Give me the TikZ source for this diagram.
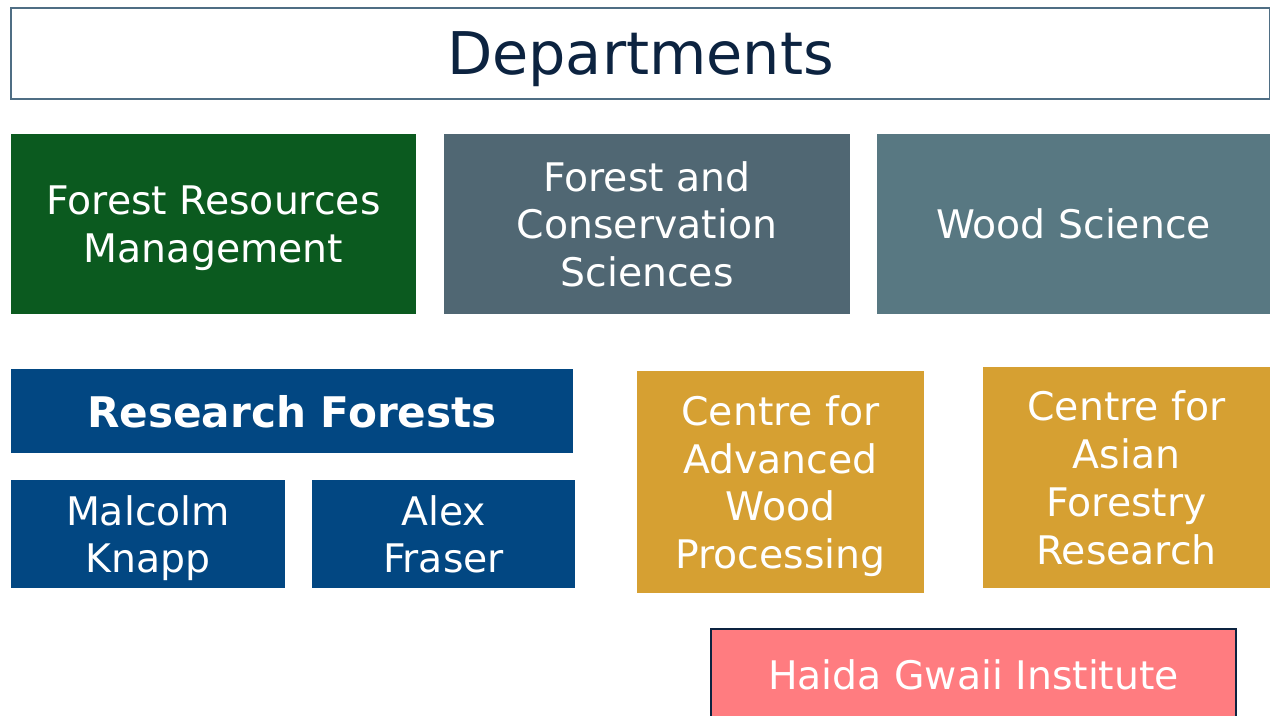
\documentclass[tikz,border=0pt]{standalone}
\usepackage{xcolor}
\usepackage{fontspec}
\setmainfont{DejaVu Sans}
\usepackage{tikz}
\usetikzlibrary{shadows}

\definecolor{deptgreen}{HTML}{0B5A1F}
\definecolor{deptslate}{HTML}{506773}
\definecolor{deptteal}{HTML}{587882}
\definecolor{forestblue}{HTML}{024782}
\definecolor{centregold}{HTML}{D6A032}
\definecolor{haidapink}{HTML}{FF7C80}
\definecolor{titlenavy}{HTML}{0C2340}
\definecolor{titleframe}{HTML}{4F6E84}

\begin{document}
\begin{tikzpicture}[x=0.02cm, y=-0.02cm,
    unit/.style={inner sep=0pt, align=center, text=white, text depth=0pt,
        font=\fontsize{22.4}{27.2}\selectfont},
    title/.style={draw=titleframe, line width=1pt, fill=white, inner sep=0pt, text depth=0pt,
        text=titlenavy, font=\fontsize{33.5}{40}\selectfont}]
    \useasboundingbox (0,0) rectangle (1270,716);

    \node[title, minimum width=25.18cm, minimum height=1.82cm] (dept) at (640.5,53.5) {Departments};

    \node[unit, fill=deptgreen, minimum width=8.1cm, minimum height=3.6cm] (frm) at (213.5,224) {Forest Resources\\Management};
    \node[unit, fill=deptslate, minimum width=8.12cm, minimum height=3.6cm] (fcs) at (647,224) {Forest and\\Conservation\\Sciences};
    \node[unit, fill=deptteal, minimum width=7.86cm, minimum height=3.6cm] (ws) at (1073.5,224) {Wood Science};

    \node[unit, fill=forestblue, minimum width=11.24cm, minimum height=1.68cm,
        font=\fontsize{24}{28}\selectfont\bfseries] (rf) at (292,411) {Research Forests};
    \node[unit, fill=forestblue, minimum width=5.48cm, minimum height=2.16cm] (mk) at (148,534) {Malcolm\\Knapp};
    \node[unit, fill=forestblue, minimum width=5.26cm, minimum height=2.16cm] (af) at (443.5,534) {Alex\\Fraser};

    \node[unit, fill=centregold, minimum width=5.74cm, minimum height=4.44cm] (cawp) at (780.5,482) {Centre for\\Advanced\\Wood\\Processing};
    \node[unit, fill=centregold, minimum width=5.74cm, minimum height=4.42cm] (cafr) at (1126.5,477.5) {Centre for\\Asian\\Forestry\\Research};

    \node[unit, fill=haidapink, draw=titlenavy, line width=0.8pt, minimum width=10.5cm, minimum height=1.82cm,
        drop shadow={opacity=0.2, shadow xshift=0.6pt, shadow yshift=-0.6pt}] (hgi) at (973.5,674.5) {Haida Gwaii Institute};
\end{tikzpicture}
\end{document}
